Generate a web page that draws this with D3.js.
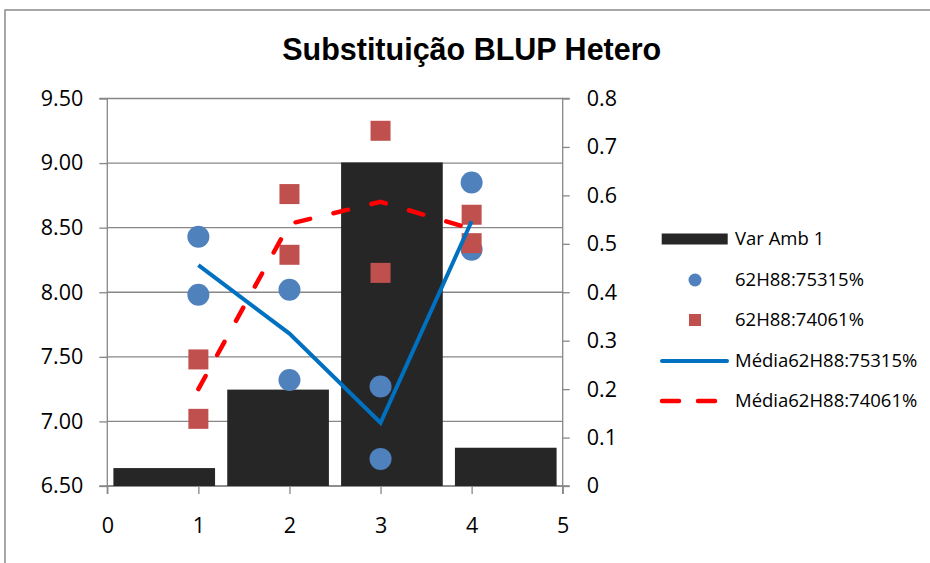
<!DOCTYPE html>
<html>
<head>
<meta charset="utf-8">
<script src="https://cdn.jsdelivr.net/npm/d3@7"></script>
<style>
  html, body { margin: 0; padding: 0; background: #fff; }
  svg { display: block; }
  text { font-family: "Open Sans", "Noto Sans", sans-serif; fill: #000; }
</style>
</head>
<body>
<svg id="chart" width="930" height="563"></svg>
<script>
// ---- Data ----
const title = "Substituição BLUP Hetero";
const barCategories = [1, 2, 3, 4];
const barValues = [0.037, 0.199, 0.668, 0.079];          // Var Amb 1 (right axis)
const xPoints = [1, 2, 3, 4];
const blueA = [8.43, 8.02, 7.27, 8.85];                  // 62H88:75315% (first point per x)
const blueB = [7.98, 7.32, 6.71, 8.33];                  // 62H88:75315% (second point per x)
const redA = [7.48, 8.76, 9.25, 8.60];                   // 62H88:74061%
const redB = [7.02, 8.29, 8.15, 8.38];                   // 62H88:74061%
const blueMean = [8.21, 7.68, 6.99, 8.55];               // Média62H88:75315%
const redMean = [7.25, 8.53, 8.70, 8.49];                // Média62H88:74061%
const leftTicks = [6.5, 7.0, 7.5, 8.0, 8.5, 9.0, 9.5];
const rightTicks = [0, 0.1, 0.2, 0.3, 0.4, 0.5, 0.6, 0.7, 0.8];
const xTicks = [0, 1, 2, 3, 4, 5];
const legendLabels = ["Var Amb 1", "62H88:75315%", "62H88:74061%", "Média62H88:75315%", "Média62H88:74061%"];

// ---- Layout ----
const svg = d3.select("#chart");
const L = 107.3, R = 562.7, T = 98.5, B = 486;
const gridColor = "#878787";

const x = d3.scaleLinear().domain([0, 5]).range([L, R]);
const yL = d3.scaleLinear().domain([6.5, 9.5]).range([B, T]);
const yR = d3.scaleLinear().domain([0, 0.8]).range([B, T]);
const xBand = d3.scaleBand().domain(barCategories).range([L, R]).paddingInner(0.107).paddingOuter(0.0535);

// Outer border
svg.append("path").attr("d", "M5,563 L5,10 L930,10")
  .attr("fill", "none").attr("stroke", "#8a8a8a").attr("stroke-width", 1.5);

// Title
svg.append("text").attr("x", 471.7).attr("y", 60).attr("text-anchor", "middle")
  .style("font-family", "'Liberation Sans', Arial, sans-serif")
  .style("font-weight", "bold").style("font-size", "30.5px").text(title);

// Gridlines
svg.append("g").selectAll("line").data(leftTicks).join("line")
  .attr("x1", L).attr("x2", R).attr("y1", d => yL(d)).attr("y2", d => yL(d))
  .attr("stroke", gridColor).attr("stroke-width", 1.3);

// Left axis
const gLeft = svg.append("g").attr("transform", `translate(${L},0)`)
  .call(d3.axisLeft(yL).tickValues(leftTicks).tickFormat(d3.format(".2f")).tickSize(8).tickPadding(16));
// Right axis
const gRight = svg.append("g").attr("transform", `translate(${R},0)`)
  .call(d3.axisRight(yR).tickValues(rightTicks).tickFormat(d => d === 0 ? "0" : d3.format(".1f")(d)).tickSize(7).tickPadding(17));
// Bottom axis
const gBot = svg.append("g").attr("transform", `translate(0,${B})`)
  .call(d3.axisBottom(x).tickValues(xTicks).tickFormat(d3.format("d")).tickSize(8).tickPadding(24));

[gLeft, gRight, gBot].forEach(g => {
  g.select(".domain").attr("stroke", gridColor).attr("stroke-width", 1.3);
  g.selectAll(".tick line").attr("stroke", gridColor).attr("stroke-width", 1.3);
  g.selectAll(".tick text").style("font-family", "'Open Sans', sans-serif").style("font-size", "21.5px").attr("fill", "#000");
});
gLeft.select(".domain").attr("d", `M-8,${T}H0V${B}H-8`);
gRight.select(".domain").attr("d", `M7,${T}H0V${B}H7`);
gBot.select(".domain").attr("d", `M${L},8V0H${R}V8`);

// Bars
svg.append("g").selectAll("rect").data(barValues).join("rect")
  .attr("x", (d, i) => xBand(barCategories[i]))
  .attr("width", xBand.bandwidth())
  .attr("y", d => yR(d))
  .attr("height", d => B - yR(d))
  .attr("fill", "#262626");

// Blue circles
const blueColor = "#4F81BD", redColor = "#C0504D";
const bluePts = xPoints.flatMap((xv, i) => [[xv, blueA[i]], [xv, blueB[i]]]);
const redPts = xPoints.flatMap((xv, i) => [[xv, redA[i]], [xv, redB[i]]]);
svg.append("g").selectAll("circle").data(bluePts).join("circle")
  .attr("cx", d => x(d[0])).attr("cy", d => yL(d[1])).attr("r", 11).attr("fill", blueColor);
const sq = 20;
svg.append("g").selectAll("rect").data(redPts).join("rect")
  .attr("x", d => x(d[0]) - sq / 2).attr("y", d => yL(d[1]) - sq / 2)
  .attr("width", sq).attr("height", sq).attr("fill", redColor);

// Mean lines
const line = d3.line().x(d => x(d[0])).y(d => yL(d[1]));
svg.append("path").datum(xPoints.map((xv, i) => [xv, blueMean[i]]))
  .attr("d", line).attr("fill", "none").attr("stroke", "#0070C0").attr("stroke-width", 4)
  .attr("stroke-linejoin", "miter");
svg.append("path").datum(xPoints.map((xv, i) => [xv, redMean[i]]))
  .attr("d", line).attr("fill", "none").attr("stroke", "#FF0000").attr("stroke-width", 4.5)
  .attr("stroke-dasharray", "15,24").attr("stroke-linecap", "round");

// Legend
const lg = svg.append("g");
const ly = [239, 280, 320, 361, 401];
const tx = 735;
lg.append("rect").attr("x", 661.7).attr("y", ly[0] - 5.5).attr("width", 66).attr("height", 11).attr("fill", "#262626");
lg.append("circle").attr("cx", 695).attr("cy", ly[1]).attr("r", 6.5).attr("fill", blueColor);
lg.append("rect").attr("x", 689).attr("y", ly[2] - 6).attr("width", 12).attr("height", 12).attr("fill", redColor);
lg.append("line").attr("x1", 662).attr("x2", 727).attr("y1", ly[3]).attr("y2", ly[3])
  .attr("stroke", "#0070C0").attr("stroke-width", 4).attr("stroke-linecap", "round");
lg.append("line").attr("x1", 662).attr("x2", 727).attr("y1", ly[4]).attr("y2", ly[4])
  .attr("stroke", "#FF0000").attr("stroke-width", 4.5).attr("stroke-dasharray", "17,19").attr("stroke-linecap", "round");
lg.selectAll("text").data(legendLabels).join("text")
  .attr("x", tx).attr("y", (d, i) => ly[i]).attr("dy", "0.35em")
  .style("font-size", "18.5px").text(d => d);
</script>
</body>
</html>
